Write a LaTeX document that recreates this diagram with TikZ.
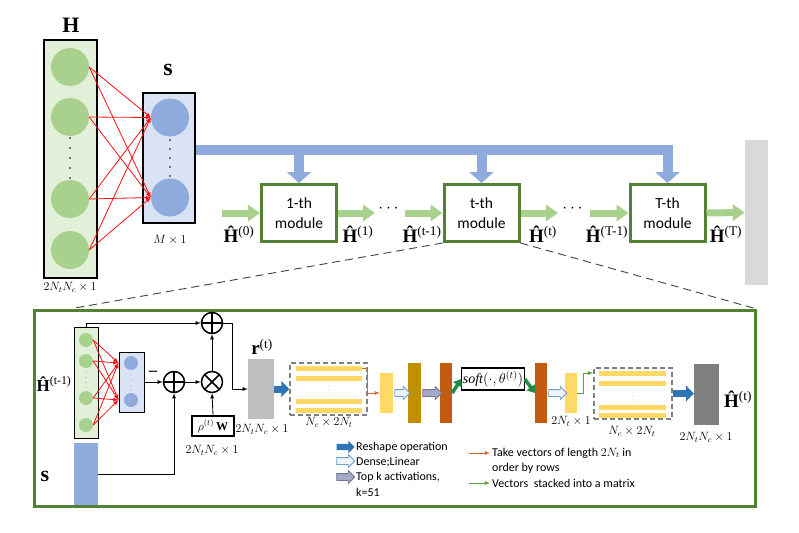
\documentclass[tikz,border=0pt]{standalone}
\usepackage{amsmath,amssymb}
\usepackage{fontspec}
\setmainfont{Liberation Serif}
\newfontfamily\carlito{Carlito}
\usepackage{tikz}
\usetikzlibrary{arrows.meta,shapes.arrows,calc}
\definecolor{lgreen}{HTML}{E2EFD9}
\definecolor{cgreen}{HTML}{A9D18E}
\definecolor{lblue}{HTML}{DAE3F3}
\definecolor{cblue}{HTML}{8FAADC}
\definecolor{dgreen}{HTML}{548235}
\definecolor{ybar}{HTML}{FFD966}
\definecolor{olive}{HTML}{BF9000}
\definecolor{rust}{HTML}{C55A11}
\definecolor{rblue}{HTML}{2E75B6}
\definecolor{sgreen}{HTML}{1E8C45}
\definecolor{tgray}{HTML}{A5AACB}
\definecolor{lorange}{HTML}{E2622A}
\definecolor{lgrn}{HTML}{5E9E3C}
\definecolor{nred}{HTML}{FF1010}

\newcommand{\Hhat}[1]{\textbf{\^{H}}\textsuperscript{(#1)}}

\begin{document}
\begin{tikzpicture}[x=1pt, y=-1pt,
  vecbox/.style={draw, line width=1.5pt, inner sep=0pt},
  ncircle/.style={circle, inner sep=0pt, minimum size=#1},
  module/.style={draw=dgreen, line width=3pt, fill=white, minimum width=75, minimum height=57, align=center, font=\carlito\fontsize{15.5}{20}\selectfont},
  bluebar/.style={cblue, line width=10pt, -{Triangle[length=11pt,width=24pt]}},
  greenarr/.style={cgreen, line width=7pt, -{Triangle[length=12pt,width=16pt]}},
  reshape/.style={rblue, line width=7pt, -{Triangle[length=8pt,width=16pt]}},
  softarr/.style={sgreen, line width=3.5pt, -{Triangle[length=7pt,width=10pt]}},
  redarr/.style={nred, line width=0.8pt, -{Latex[length=5pt,width=4pt]}},
  dense/.style={single arrow, draw=rblue!70, fill=rblue!8, line width=0.8pt, inner xsep=0pt, inner ysep=3pt, single arrow head extend=3pt, minimum height=#1},
  topk/.style={single arrow, draw=tgray!70!black, fill=tgray, line width=0.8pt, inner xsep=0pt, inner ysep=3pt, single arrow head extend=3pt, minimum height=#1},
  reshapekey/.style={single arrow, fill=rblue, inner xsep=0pt, inner ysep=3pt, single arrow head extend=3pt, minimum height=18},
  bar/.style={fill=ybar, minimum width=#1, minimum height=5, inner sep=0pt},
  col/.style={fill=#1, inner sep=0pt, minimum width=13, minimum height=60},
  dbox/.style={draw=gray, dash pattern=on 5pt off 3pt, line width=1.5pt, inner sep=0pt},
  oplus/.style={draw, circle, line width=1.5pt, minimum size=21, inner sep=0pt, path picture={\draw[line width=1.5pt] (path picture bounding box.north) -- (path picture bounding box.south) (path picture bounding box.west) -- (path picture bounding box.east);}},
  otimes/.style={draw, circle, line width=1.5pt, minimum size=21, inner sep=0pt, path picture={\draw[line width=1.5pt] (path picture bounding box.north west) -- (path picture bounding box.south east) (path picture bounding box.north east) -- (path picture bounding box.south west);}},
  dim/.style={font=\fontsize{12}{12}\selectfont, inner sep=0pt},
  lab/.style={font=\fontsize{19}{19}\selectfont, inner sep=0pt, anchor=base},
  legend/.style={font=\carlito\fontsize{12}{15}\selectfont, inner sep=0pt, anchor=west},
  conn/.style={line width=0.8pt, -latex}]
  \useasboundingbox (0,0) rectangle (799,532);

  \node[vecbox, fill=lgreen, minimum width=53, minimum height=238] (Hbox) at (70.5,159) {};
  \foreach \y [count=\i] in {67,117,199,250} \node[ncircle=38, fill=cgreen] (h\i) at (70,\y) {};
  \foreach \y in {138,148,158,168,178} \fill (70,\y) circle (0.8);
  \node[vecbox, fill=lblue, minimum width=52, minimum height=130] (sbox) at (169,158) {};
  \foreach \y [count=\i] in {117.5,197.5} \node[ncircle=38, fill=cblue] (s\i) at (170,\y) {};
  \foreach \y in {140,149,158,167,176} \fill (170,\y) circle (0.8);
  \foreach \i in {1,...,4} \foreach \j in {1,2} \draw[redarr] (h\i.east) -- (s\j.west);
  \node[font=\fontsize{22}{22}\selectfont\bfseries] (Hlab) at (71,25) {H};
  \node[font=\fontsize{24}{24}\selectfont\bfseries] (slab) at (168,70) {s};
  \node[dim] (Mdim) at (170,240) {$M\times 1$};
  \node[dim] (Hdim) at (70,287) {$2N_tN_c\times 1$};

  \node[module] (m1) at (299,213) {1-th\\module};
  \node[module] (mt) at (481.5,213) {t-th\\module};
  \node[module] (mT) at (667.5,213) {T-th\\module};
  \draw[bluebar] ([yshift=8pt]sbox.east) -| (mT.north);
  \draw[bluebar] (m1.north |- 0,150) -- (m1.north);
  \draw[bluebar] (mt.north |- 0,150) -- (mt.north);

  \node[fill=black!15, minimum width=23, minimum height=145, inner sep=0pt] (Hout) at (756.5,212.5) {};
  \coordinate (i1) at (222,213);
  \coordinate (o1) at (375,213);
  \coordinate (i2) at (405,213);
  \coordinate (o2) at (558,213);
  \coordinate (i3) at (590,213);
  \draw[greenarr] (i1) -- (m1.west);
  \draw[greenarr] (m1.east) -- (o1);
  \draw[greenarr] (i2) -- (mt.west);
  \draw[greenarr] (mt.east) -- (o2);
  \draw[greenarr] (i3) -- (mT.west);
  \draw[greenarr] (mT.east) -- (Hout.west);
  \node[font=\fontsize{18}{18}\selectfont] (dots1) at (390,209) {$\cdots$};
  \node[font=\fontsize{18}{18}\selectfont] (dots2) at (574,209) {$\cdots$};
  \node[lab] (l0) at (239,242) {\Hhat{0}};
  \node[lab] (l1) at (358,242) {\Hhat{1}};
  \node[lab] (ltm) at (422,242) {\Hhat{t-1}};
  \node[lab] (lt) at (543,242) {\Hhat{t}};
  \node[lab] (lTm) at (607,242) {\Hhat{T-1}};
  \node[lab] (lT) at (726,242) {\Hhat{T}};

  \node[draw=dgreen, line width=3pt, minimum width=721, minimum height=196, inner sep=0pt] (panel) at (395,408.5) {};
  \coordinate (pl) at (75,308);
  \draw[black!75, line width=0.9pt, dash pattern=on 8pt off 5pt] (mt.south west) -- (pl);
  \draw[black!75, line width=0.9pt, dash pattern=on 8pt off 5pt] (mt.south east) -- (panel.north east);

  \node[vecbox, line width=1pt, fill=lgreen, minimum width=24, minimum height=111] (Hb) at (86,382.5) {};
  \foreach \y [count=\i] in {340,361,398,425} \node[ncircle=14, fill=cgreen] (hb\i) at (86,\y) {};
  \foreach \y in {372,377,382,387} \fill[gray] (86,\y) circle (0.5);
  \node[vecbox, line width=1pt, fill=lblue, minimum width=25, minimum height=60] (Sb) at (131.5,382) {};
  \foreach \y [count=\i] in {363,400} \node[ncircle=14, fill=cblue] (sb\i) at (131,\y) {};
  \foreach \y in {375,380,385,390} \fill[gray] (131,\y) circle (0.5);
  \foreach \i in {1,...,4} \foreach \j in {1,2} \draw[redarr, -latex] (hb\i.east) -- (Sb.west |- sb\j);
  \node[lab, font=\fontsize{17}{17}\selectfont] (Hin) at (54,391) {\Hhat{t-1}};
  \node[fill=cblue, minimum width=24, minimum height=62, inner sep=0pt] (sr) at (86,474) {};
  \node[font=\fontsize{22}{22}\selectfont\bfseries] (slab2) at (45,476) {s};

  \node[oplus] (p1) at (174,382) {};
  \node[otimes] (ox) at (212,382) {};
  \node[oplus] (p2) at (212,323) {};
  \node[draw, line width=1.5pt, minimum width=42, minimum height=20, inner sep=0pt, font=\fontsize{12}{12}\selectfont] (rw) at (213,426) {$\rho^{(t)}\,\mathbf{W}$};
  \node[dim] (rwdim) at (212,450) {$2N_tN_c\times 1$};
  \node[font=\fontsize{16}{16}\selectfont\bfseries] (minus) at (153,373) {--};
  \draw[conn] (Sb.east) -- (p1.west);
  \draw[conn] (p1.east) -- (ox.west);
  \draw[conn] (ox.north) -- (p2.south);
  \draw[conn] (rw.north) -- (ox.south);
  \draw[conn] (Hb.north) |- (p2.west);
  \draw[conn] (sr.east) -| (p1.south);

  \node[fill=black!25, minimum width=26, minimum height=60, inner sep=0pt] (rbox) at (261,389) {};
  \draw[conn] (p2.east) -| ([xshift=-15pt]rbox.west) -- (rbox.west);
  \node[font=\fontsize{19}{19}\selectfont] (rlab) at (262,347) {\textbf{r}\textsuperscript{(t)}};
  \node[dim] (rdim) at (262,429) {$2N_tN_c\times 1$};

  \node[dbox, minimum width=77, minimum height=52] (db1) at (328.5,389) {};
  \foreach \y [count=\i] in {368,378,401,410} \node[bar=66] (ba\i) at (329,\y) {};
  \foreach \y in {386,390,394} \fill[gray] (329,\y) circle (0.4);
  \node[dim] (db1dim) at (329,422) {$N_c\times 2N_t$};
  \draw[reshape] (rbox.east) -- (db1.west);
  \node[fill=ybar, minimum width=13, minimum height=40, inner sep=0pt] (y1) at (386.5,393) {};
  \draw[lorange, line width=0.8pt, -latex] (ba1.east) -- ++(5,0) |- (y1.west);
  \node[col=olive] (ol) at (414.5,393) {};
  \node[col=rust, minimum width=12] (or1) at (446,393) {};
  \node[draw, line width=1.2pt, minimum width=60, minimum height=22, inner sep=1pt, font=\fontsize{14}{14}\selectfont] (soft) at (493,379) {$\mathit{soft}(\cdot,\theta^{(t)})$};
  \node[col=rust, minimum width=12] (or2) at (541,393) {};
  \node[fill=ybar, minimum width=12, minimum height=40, inner sep=0pt] (y2) at (571,393) {};
  \node[dim] (y2dim) at (571,421) {$2N_t\times 1$};
  \node[dense=15] (dn1) at ($(y1.east)!0.5!(ol.west)$) {};
  \node[topk=19] (tk1) at ($(ol.east)!0.5!(or1.west)$) {};
  \node[dense=18] (dn2) at ($(or2.east)!0.5!(y2.west)$) {};
  \draw[softarr] (or1.east) -- (soft.west);
  \draw[softarr] (soft.east) -- (or2.west);

  \node[dbox, minimum width=78, minimum height=51] (db2) at (633,393.5) {};
  \foreach \y [count=\i] in {373,383,407,415} \node[bar=67] (bb\i) at (632.5,\y) {};
  \foreach \y in {392,396,400} \fill[gray] (633,\y) circle (0.4);
  \draw[lgrn, line width=0.8pt, -latex] (y2.east) -- ++(6,0) |- (db2.west |- bb1);
  \node[dim] (db2dim) at (632,431) {$N_c\times 2N_t$};
  \node[fill=black!50, minimum width=25, minimum height=61, inner sep=0pt] (Hfin) at (706.5,394.5) {};
  \draw[reshape] (db2.east) -- (Hfin.west |- db2.east);
  \node[lab] (Ht) at (738,407) {\Hhat{t}};
  \node[dim] (Hfdim) at (706,437) {$2N_tN_c\times 1$};

  \node[reshapekey] (key1) at (344,447) {};
  \node[dense=18] (key2) at (344,461) {};
  \node[topk=18] (key3) at (344,477) {};
  \node[legend] (t1) at (356,447) {Reshape operation};
  \node[legend] (t2) at (356,462) {Dense;Linear};
  \node[legend] (t3) at (356,477) {Top k activations,};
  \node[legend] (t4) at (356,492) {k=51};
  \coordinate (ka) at (469,453);
  \coordinate (kb) at (490,453);
  \coordinate (kc) at (469,483);
  \coordinate (kd) at (490,483);
  \draw[lorange, line width=0.8pt, -latex] (ka) -- (kb);
  \draw[lgrn, line width=0.8pt, -latex] (kc) -- (kd);
  \node[legend] (t5) at (492,453) {Take vectors of length $2N_t$ in};
  \node[legend] (t6) at (492,468) {order by rows};
  \node[legend] (t7) at (492,483) {Vectors\ \ stacked into a matrix};
\end{tikzpicture}
\end{document}
